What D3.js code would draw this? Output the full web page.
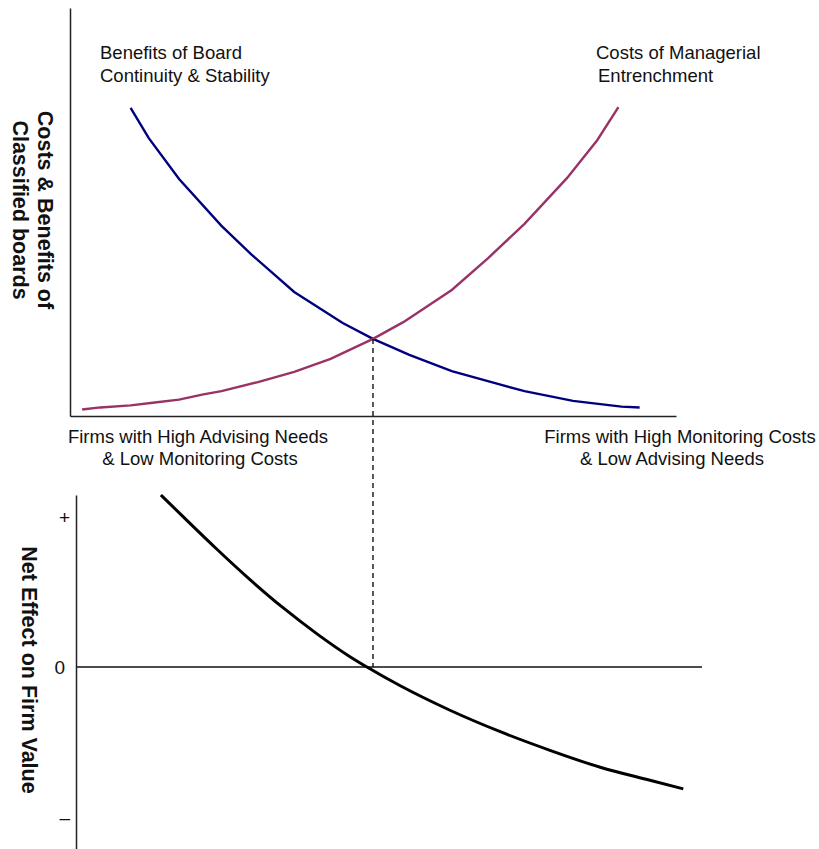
<!DOCTYPE html>
<html>
<head>
<meta charset="utf-8">
<script src="https://cdn.jsdelivr.net/npm/d3@7"></script>
<style>
  body { margin: 0; background: #fff; }
  text { font-family: "Liberation Sans", Arial, sans-serif; fill: #111; }
  .axis path { stroke: #222; stroke-width: 1.5px; }
</style>
</head>
<body>
<div id="chart"></div>
<script>
// benefits of board continuity (blue curve)
const benefitX = [10, 13, 18, 25, 30, 37, 45, 50, 56, 63, 70, 75, 83, 91, 94];
const benefitY = [75.5, 68.1, 58.1, 46.6, 39.5, 30.4, 22.8, 18.9, 15.0, 11.0, 8.1, 6.1, 3.7, 2.3, 2.1];

// costs of managerial entrenchment (magenta curve)
const costX = [2, 5, 10, 14, 18, 22, 25, 31, 37, 43, 50, 55, 63, 69, 75, 82, 87, 90.5];
const costY = [1.6, 2.1, 2.6, 3.3, 4.0, 5.3, 6.1, 8.3, 10.8, 14.0, 18.9, 23.0, 30.9, 38.7, 47.1, 58.3, 67.6, 75.7];

// net effect on firm value (black curve)
const netX = [15.0, 18.7, 24.2, 29.7, 35.2, 40.7, 46.2, 49.0, 54.5, 62.7, 71.0, 79.2, 87.5, 95.7, 101.2];
const netY = [1.147, 1.001, 0.787, 0.583, 0.394, 0.223, 0.069, 0, -0.125, -0.288, -0.431, -0.555, -0.668, -0.755, -0.812];

const crossingX = 50;
const crossingY = 18.9;

const netTicks = [1, 0, -1];
const netTickLabels = ["+", "0", "\u2013"];

const width = 819;
const height = 849;

const svg = d3.select('#chart').append('svg')
    .attr('width', width)
    .attr('height', height);

const x = d3.scaleLinear().domain([0, 100]).range([70, 676]);
const yTop = d3.scaleLinear().domain([0, 100]).range([416, 8]);
const yNet = d3.scaleLinear().domain([-1.213, 1.147]).range([849, 495]);

// top panel axes
svg.append('g')
    .attr('class', 'axis')
    .attr('transform', 'translate(0,416)')
    .call(d3.axisBottom(x).ticks(0).tickSizeOuter(0));

svg.append('g')
    .attr('class', 'axis')
    .attr('transform', 'translate(70,0)')
    .call(d3.axisLeft(yTop).ticks(0).tickSizeOuter(0));

const line = d3.line()
    .x(d => x(d[0]))
    .y(d => yTop(d[1]));

svg.append('path')
    .datum(d3.zip(benefitX, benefitY))
    .attr('d', line)
    .attr('fill', 'none')
    .attr('stroke', '#00007f')
    .attr('stroke-width', 2.4);

svg.append('path')
    .datum(d3.zip(costX, costY))
    .attr('d', line)
    .attr('fill', 'none')
    .attr('stroke', '#993366')
    .attr('stroke-width', 2.4);

// labels
function label(xPos, yPos, s, anchor) {
    svg.append('text')
        .attr('x', xPos)
        .attr('y', yPos)
        .style('font-size', '18.5px')
        .style('text-anchor', anchor || 'start')
        .text(s);
}

label(100, 59, 'Benefits of Board');
label(100, 81.5, 'Continuity & Stability');
label(596, 59, 'Costs of Managerial');
label(598, 81.5, 'Entrenchment');
label(198, 442.5, 'Firms with High Advising Needs', 'middle');
label(200, 464.5, '& Low Monitoring Costs', 'middle');
label(680, 442.5, 'Firms with High Monitoring Costs', 'middle');
label(672, 464.5, '& Low Advising Needs', 'middle');

// y axis title, top
const topTitle = svg.append('text')
    .attr('transform', 'translate(38,210) rotate(90)')
    .style('font-size', '21.5px')
    .style('font-weight', 'bold')
    .style('text-anchor', 'middle');
topTitle.append('tspan').attr('x', 0).attr('dy', 0).text('Costs & Benefits of');
topTitle.append('tspan').attr('x', 0).attr('dy', 25).text('Classified boards');

// bottom panel
svg.append('line')
    .attr('x1', 76)
    .attr('x2', 702)
    .attr('y1', yNet(0))
    .attr('y2', yNet(0))
    .attr('stroke', '#111')
    .attr('stroke-width', 1.5);

const netAxis = svg.append('g')
    .attr('class', 'axis')
    .attr('transform', 'translate(76,0)')
    .call(d3.axisLeft(yNet)
        .tickValues(netTicks)
        .tickFormat((d, i) => netTickLabels[i])
        .tickSize(0)
        .tickPadding(6))
    .attr('font-size', 19)
    .attr('font-family', '"Liberation Sans", Arial, sans-serif');
netAxis.selectAll('text')
    .style('font-size', '19px')
    .attr('fill', '#111')
    .attr('dx', d => d === 0 ? -5 : 0);

svg.append('text')
    .attr('transform', 'translate(22,670) rotate(90)')
    .style('font-size', '21.5px')
    .style('font-weight', 'bold')
    .style('text-anchor', 'middle')
    .text('Net Effect on Firm Value');

const netLine = d3.line()
    .x(d => x(d[0]))
    .y(d => yNet(d[1]))
    .curve(d3.curveMonotoneX);

svg.append('path')
    .datum(d3.zip(netX, netY))
    .attr('d', netLine)
    .attr('fill', 'none')
    .attr('stroke', '#000')
    .attr('stroke-width', 3);

// dashed link between the crossing point and the zero line
svg.append('line')
    .attr('x1', x(crossingX))
    .attr('x2', x(crossingX))
    .attr('y1', yTop(crossingY))
    .attr('y2', yNet(0))
    .attr('stroke', '#000')
    .attr('stroke-width', 1.3)
    .attr('stroke-dasharray', '5,4');
</script>
</body>
</html>
